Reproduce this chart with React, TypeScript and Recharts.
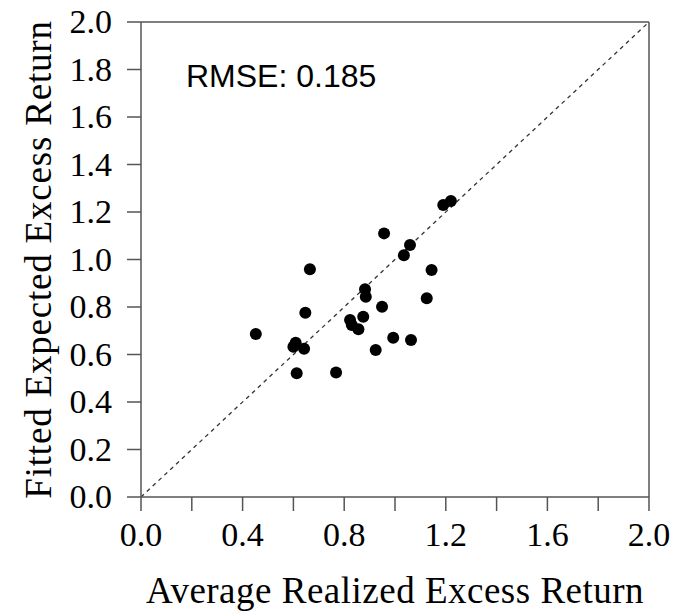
import {
  Label,
  ReferenceLine,
  Scatter,
  ScatterChart,
  XAxis,
  YAxis,
} from 'recharts'

// average realized excess return (x) and fitted expected excess return (y)
const realized = [
  1.19, 1.22, 0.957, 1.059, 1.035, 0.665, 1.144, 0.882, 0.885, 1.125, 0.949,
  0.647, 0.875, 0.823, 0.83, 0.856, 0.452, 0.609, 0.6, 0.642, 0.993, 1.063,
  0.924, 0.613, 0.768,
]
const fitted = [
  1.229, 1.246, 1.11, 1.061, 1.018, 0.959, 0.956, 0.875, 0.843, 0.837, 0.801,
  0.776, 0.759, 0.745, 0.724, 0.706, 0.686, 0.65, 0.633, 0.624, 0.671, 0.661,
  0.619, 0.521, 0.524,
]
const xTicks = [0, 0.2, 0.4, 0.6, 0.8, 1.0, 1.2, 1.4, 1.6, 1.8, 2.0]
const yTicks = [0, 0.2, 0.4, 0.6, 0.8, 1.0, 1.2, 1.4, 1.6, 1.8, 2.0]
const rmseText = 'RMSE: 0.185'

const points = realized.map((x, i) => ({ x, y: fitted[i] }))

const W = 677
const H = 611
const serif = '"Liberation Serif", "Times New Roman", serif'
const sans = '"Liberation Sans", Arial, sans-serif'
const axisColor = '#555'

const Dot = (props: any) => (
  <circle cx={props.cx} cy={props.cy} r={6} fill="#000" />
)

// x ticks every 0.2, labels only every 0.4
const XTick = (props: any) => {
  const v = props.payload.value
  if (Math.round(v * 10) % 4 !== 0) return <g />
  return (
    <text
      x={props.x}
      y={546}
      textAnchor="middle"
      fontFamily={serif}
      fontSize={34}
      fill="#000"
    >
      {v.toFixed(1)}
    </text>
  )
}

const YTick = (props: any) => (
  <text
    x={112}
    y={props.y + 11}
    textAnchor="end"
    fontFamily={serif}
    fontSize={34}
    fill="#000"
  >
    {props.payload.value.toFixed(1)}
  </text>
)

export default function App() {
  return (
    <div
      style={{
        position: 'absolute',
        left: 0,
        top: 0,
        width: W,
        height: H,
        background: '#fff',
      }}
    >
      <ScatterChart
        width={W}
        height={H}
        margin={{ top: 22, right: 28, bottom: 0, left: 0 }}
      >
        <XAxis
          type="number"
          dataKey="x"
          domain={[0, 2]}
          ticks={xTicks}
          height={114}
          tickSize={14}
          stroke={axisColor}
          strokeWidth={1.5}
          tick={XTick}
          interval={0}
        >
          <Label
            content={(p: any) => (
              <text
                x={p.viewBox.x + p.viewBox.width / 2}
                y={603}
                textAnchor="middle"
                fontFamily={serif}
                fontSize={37}
                letterSpacing={0.5}
                fill="#000"
              >
                Average Realized Excess Return
              </text>
            )}
          />
        </XAxis>
        <YAxis
          type="number"
          dataKey="y"
          domain={[0, 2]}
          ticks={yTicks}
          width={141}
          tickSize={14}
          stroke={axisColor}
          strokeWidth={1.5}
          tick={YTick}
          interval={0}
        >
          <Label
            content={(p: any) => {
              const cy = p.viewBox.y + p.viewBox.height / 2
              return (
                <text
                  x={51}
                  y={cy}
                  transform={`rotate(-90, 51, ${cy})`}
                  textAnchor="middle"
                  fontFamily={serif}
                  fontSize={37}
                  letterSpacing={0.8}
                  fill="#000"
                >
                  Fitted Expected Excess Return
                </text>
              )
            }}
          />
        </YAxis>
        <ReferenceLine y={2} stroke={axisColor} strokeWidth={1.5} />
        <ReferenceLine x={2} stroke={axisColor} strokeWidth={1.5} />
        <ReferenceLine
          segment={[
            { x: 0, y: 0 },
            { x: 2, y: 2 },
          ]}
          stroke="#333"
          strokeWidth={1.3}
          strokeDasharray="4 4"
        />
        <Scatter data={points} shape={Dot} isAnimationActive={false} />
      </ScatterChart>
      <svg
        width={W}
        height={H}
        style={{ position: 'absolute', left: 0, top: 0, pointerEvents: 'none' }}
      >
        <text x={186} y={87} fontFamily={sans} fontSize={32} fill="#000">
          {rmseText}
        </text>
      </svg>
    </div>
  )
}
